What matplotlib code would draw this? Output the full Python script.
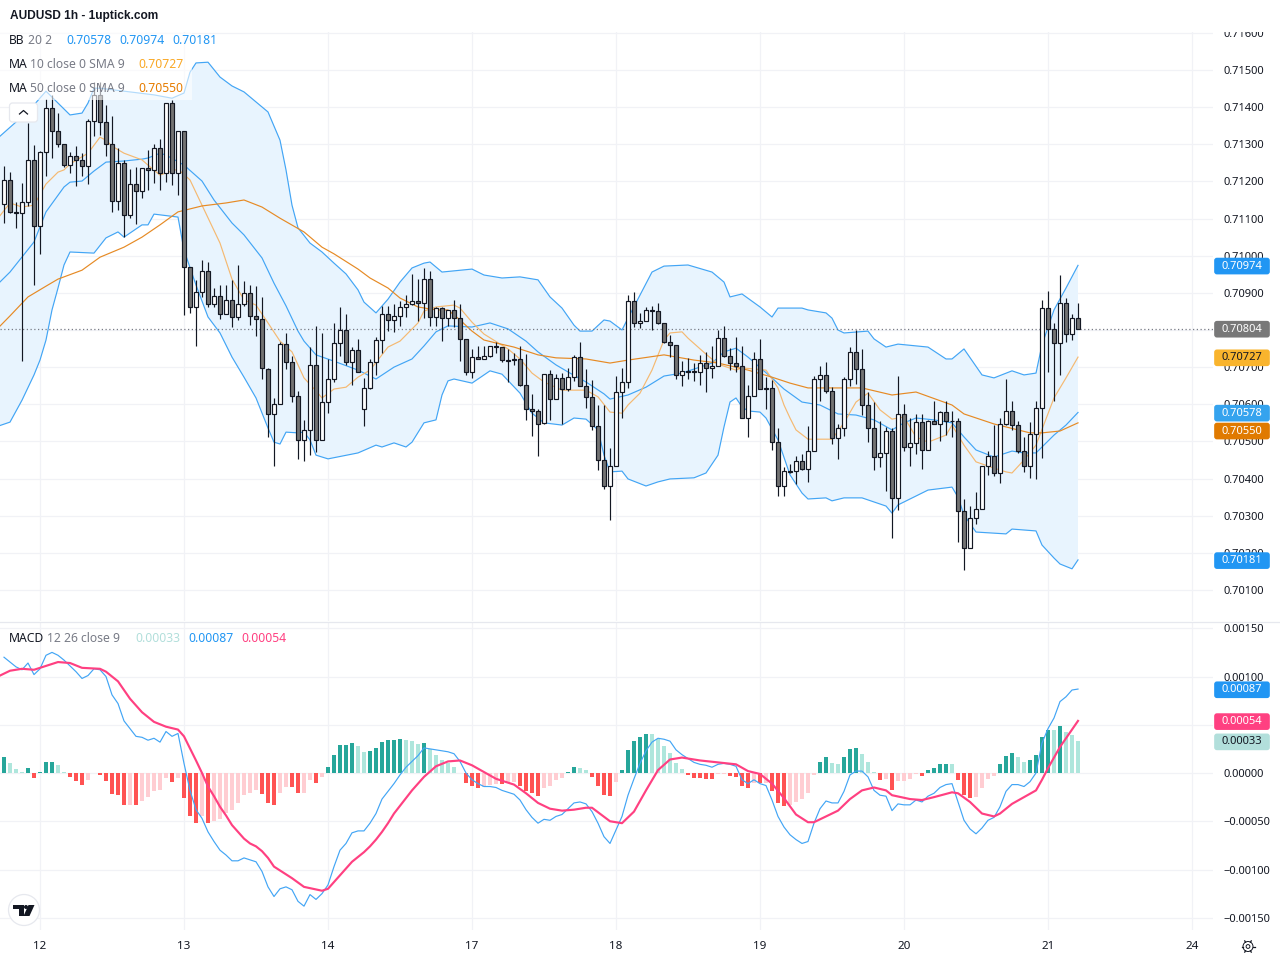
import numpy as np
import matplotlib
matplotlib.use("Agg")
import matplotlib.pyplot as plt
from matplotlib.patches import FancyBboxPatch, Rectangle, Circle, Polygon

# ---------- candles (price x 1e5) ----------
opens = [71138,71204,71117,71114,71145,71259,71079,71278,71397,71335,
71300,71243,71268,71257,71241,71362,71434,71359,71300,71146,
71249,71109,71192,71173,71235,71230,71289,71224,71410,71224,
71335,70969,70861,70901,70958,70869,70891,70842,70880,70834,
70869,70899,70837,70829,70696,70573,70600,70761,70715,70621,
70503,70530,70705,70505,70605,70667,70764,70799,70715,70745,
70586,70643,70713,70772,70842,70828,70839,70863,70871,70877,
70874,70936,70834,70858,70831,70853,70831,70777,70686,70726,
70723,70729,70756,70753,70719,70721,70721,70651,70586,70583,
70549,70681,70614,70670,70641,70673,70727,70649,70619,70541,
70450,70380,70433,70633,70660,70878,70818,70824,70853,70851,
70818,70767,70759,70678,70689,70689,70686,70711,70697,70703,
70778,70729,70711,70703,70563,70622,70721,70643,70643,70498,
70380,70421,70421,70446,70427,70473,70669,70680,70637,70508,
70535,70669,70742,70696,70599,70535,70459,70470,70527,70349,
70573,70484,70497,70551,70478,70556,70546,70578,70556,70554,
70314,70214,70295,70319,70433,70462,70416,70546,70583,70543,
70473,70433,70519,70589,70858,70804,70764,70874,70788,70831]
highs = [71241,71225,71145,71195,71358,71297,71283,71421,71433,71385,
71302,71280,71296,71276,71367,71469,71469,71406,71376,71289,
71258,71233,71238,71235,71285,71300,71313,71412,71419,71335,
71335,70969,70935,70988,70984,70912,70921,70921,70935,70974,
70932,70921,70918,70888,70699,70616,70768,70793,70730,70635,
70557,70753,70812,70793,70721,70820,70861,70844,70753,70775,
70670,70721,70780,70864,70864,70869,70877,70893,70950,70936,
70966,70958,70861,70861,70855,70880,70871,70777,70750,70757,
70757,70756,70768,70753,70750,70739,70758,70735,70629,70586,
70681,70693,70681,70684,70697,70733,70767,70695,70666,70598,
70598,70482,70675,70697,70895,70902,70845,70861,70865,70872,
70818,70786,70759,70717,70724,70711,70733,70740,70757,70800,
70811,70751,70781,70757,70651,70740,70776,70673,70666,70536,
70432,70439,70460,70465,70541,70675,70702,70713,70647,70546,
70674,70753,70800,70750,70632,70605,70554,70539,70535,70675,
70602,70564,70573,70573,70559,70608,70582,70610,70581,70564,
70345,70326,70363,70434,70474,70543,70562,70667,70610,70554,
70512,70551,70608,70882,70906,70820,70947,70887,70844,70874]
lows = [71089,71114,71074,70717,71134,70922,71005,71215,71262,71294,
71240,71224,71189,71215,71194,71322,71325,71268,71119,71123,
71051,71101,71085,71155,71177,71197,71177,71199,71190,71163,
70840,70845,70758,70888,70863,70861,70830,70842,70809,70827,
70865,70813,70785,70668,70512,70434,70600,70694,70606,70453,
70448,70464,70472,70503,70577,70661,70730,70705,70652,70688,
70542,70642,70679,70737,70798,70795,70812,70836,70867,70823,
70831,70812,70812,70771,70812,70807,70716,70680,70670,70721,
70721,70728,70737,70713,70660,70705,70649,70559,70514,70461,
70546,70558,70614,70546,70635,70664,70649,70589,70530,70423,
70371,70289,70433,70562,70643,70808,70805,70823,70799,70815,
70764,70727,70669,70650,70668,70662,70652,70634,70672,70702,
70727,70691,70688,70563,70511,70621,70641,70588,70477,70352,
70352,70414,70385,70424,70390,70473,70608,70631,70493,70452,
70514,70649,70654,70570,70499,70423,70430,70367,70240,70315,
70475,70433,70466,70425,70478,70546,70501,70517,70512,70230,
70154,70214,70277,70319,70409,70406,70389,70545,70530,70469,
70417,70401,70399,70456,70687,70608,70679,70769,70773,70804]
closes = [71204,71117,71114,71145,71259,71079,71278,71397,71335,71300,
71243,71268,71257,71241,71362,71434,71359,71300,71146,71249,
71109,71192,71173,71235,71230,71289,71224,71410,71224,71335,
70969,70861,70901,70958,70869,70891,70842,70880,70834,70869,
70899,70837,70829,70697,70573,70600,70761,70715,70621,70503,
70530,70705,70505,70605,70667,70764,70799,70715,70745,70688,
70643,70713,70772,70842,70828,70839,70863,70871,70877,70874,
70936,70834,70858,70831,70853,70831,70777,70686,70726,70723,
70729,70756,70753,70718,70717,70718,70651,70586,70583,70548,
70681,70614,70670,70641,70673,70727,70649,70619,70541,70450,
70380,70433,70633,70660,70878,70818,70824,70853,70851,70818,
70767,70759,70678,70689,70686,70686,70711,70697,70703,70778,
70729,70711,70703,70563,70622,70721,70641,70641,70498,70380,
70420,70419,70446,70427,70473,70669,70680,70637,70508,70535,
70669,70742,70696,70599,70535,70459,70470,70527,70349,70573,
70484,70497,70551,70478,70556,70546,70578,70556,70554,70314,
70214,70295,70319,70433,70462,70416,70546,70583,70543,70473,
70433,70519,70589,70858,70804,70764,70874,70788,70831,70804]

bb_up_bar = [-1,2,5,7,9,11,13,14,15,16,20,25,28,30,31,32,34,36,38,40,44,46,47,48,49,51,53,55,57,59,60,62,64,66,68,70,71,73,78,80,83,86,89,91,93,95,96,98,100,101,103,104,106,108,110,114,118,120,121,123,126,128,129,133,134,137,138,139,140,144,145,147,149,154,157,158,160,163,165,168,170,172,173,175,177,179]
bb_up_val = [71317,71360,71406,71443,71411,71379,71384,71411,71451,71451,71443,71433,71424,71438,71494,71519,71521,71481,71457,71441,71387,71311,71231,71136,71075,71034,71010,70980,70951,70908,70875,70846,70883,70929,70967,70980,70983,70956,70964,70948,70940,70943,70935,70889,70859,70813,70797,70797,70827,70824,70800,70832,70894,70956,70972,70975,70956,70929,70889,70897,70862,70835,70859,70859,70854,70846,70832,70800,70792,70797,70776,70754,70762,70754,70722,70722,70749,70679,70671,70690,70679,70684,70760,70854,70913,70974]
bb_lo_bar = [-1,1,3,5,6,7,8,9,10,11,15,17,19,20,23,24,25,29,30,32,34,36,38,40,42,44,45,46,47,49,50,51,52,54,59,62,63,65,67,68,70,72,73,74,75,78,81,83,86,88,90,93,95,97,99,100,101,103,104,107,109,111,115,117,119,120,121,122,123,124,126,127,129,131,133,134,137,138,140,143,147,148,149,154,158,159,160,162,167,168,172,173,175,176,178,179]
bb_lo_val = [70541,70552,70611,70679,70719,70773,70854,70913,70975,71010,71007,71048,71064,71050,71083,71083,71112,71104,71015,70921,70835,70792,70727,70673,70617,70536,70498,70493,70525,70523,70525,70504,70463,70453,70469,70490,70485,70496,70485,70498,70550,70558,70625,70663,70668,70657,70690,70681,70630,70576,70550,70544,70563,70560,70531,70463,70418,70420,70399,70380,70391,70399,70402,70415,70463,70539,70606,70617,70593,70582,70579,70563,70504,70410,70361,70345,70348,70340,70348,70348,70326,70307,70329,70369,70377,70350,70302,70256,70251,70264,70259,70221,70186,70170,70157,70181]
bb_mid_bar = [-1,1,5,7,10,11,13,15,17,20,23,24,26,27,30,33,35,38,40,43,45,47,49,50,52,55,59,62,65,68,70,72,74,78,81,84,87,89,92,94,97,100,101,104,107,110,113,118,120,122,124,128,130,133,136,139,142,145,148,150,152,155,158,160,162,165,168,170,172,175,177,179]
bb_mid_val = [70924,70956,71037,71118,71185,71198,71201,71228,71252,71255,71260,71263,71276,71271,71244,71201,71150,71088,71056,70994,70926,70865,70797,70770,70733,70716,70692,70668,70700,70722,70757,70795,70811,70808,70819,70803,70770,70741,70706,70687,70660,70628,70614,70625,70646,70676,70684,70711,70741,70751,70727,70671,70641,70606,70598,70574,70571,70558,70531,70550,70563,70558,70550,70512,70477,70458,70474,70469,70469,70517,70544,70578]

# ---------- moving averages ----------
ma10_bar = [-1,1,3,5,7,9,10,11,14,16,17,18,20,23,24,26,27,29,31,33,36,38,40,42,44,46,48,50,52,53,55,57,59,61,64,66,69,70,72,75,76,78,80,84,86,88,90,93,97,99,101,103,104,106,108,110,111,113,114,117,119,122,123,127,129,130,131,132,134,138,140,142,144,146,148,150,152,154,157,158,160,162,165,167,168,170,172,175,177,179]
ma10_val = [71101,71142,71131,71136,71193,71225,71231,71247,71276,71319,71311,71295,71276,71258,71244,71217,71223,71233,71204,71136,71034,70937,70881,70867,70819,70770,70741,70671,70636,70617,70641,70646,70673,70692,70754,70770,70819,70851,70862,70867,70859,70821,70789,70749,70722,70684,70660,70638,70638,70620,70579,70576,70598,70630,70692,70773,70792,70795,70778,70735,70708,70692,70698,70692,70644,70598,70563,70531,70506,70506,70550,70606,70630,70585,70560,70566,70512,70498,70517,70544,70490,70445,70428,70418,70415,70450,70490,70617,70671,70727]
ma50_bar = [-1,1,4,7,9,13,16,20,23,26,29,31,33,37,40,43,46,50,53,55,59,61,64,66,69,72,74,76,78,80,82,85,89,92,97,101,104,110,115,119,124,128,131,134,143,148,152,158,160,165,171,173,176,179]
ma50_val = [70805,70838,70889,70918,70937,70961,70996,71023,71050,71083,71118,71126,71134,71142,71150,71131,71101,71064,71023,71005,70964,70940,70913,70886,70862,70854,70854,70827,70797,70773,70765,70754,70733,70725,70722,70711,70719,70733,70719,70711,70692,70673,70657,70644,70644,70625,70633,70598,70574,70547,70523,70523,70528,70550]

# ---------- MACD (x 1e5) ----------
macd_line = [120,115,110,107,114,102,108,122,125,122,117,111,105,98,101,108,107,100,81,72,
54,46,38,37,34,36,32,43,38,41,10,-18,-38,-47,-61,-71,-80,-85,-91,-91,
-88,-90,-92,-102,-118,-128,-120,-118,-121,-133,-138,-126,-131,-125,-116,-97,-80,-73,-62,-60,
-60,-52,-42,-27,-19,-11,-2,6,12,18,26,25,24,23,22,20,12,0,-7,-11,
-14,-14,-15,-18,-20,-22,-28,-38,-46,-52,-48,-49,-45,-43,-37,-31,-30,-32,-40,-52,
-66,-73,-59,-45,-23,-6,10,23,32,36,35,33,24,19,15,11,9,8,6,9,
10,9,7,-7,-11,-7,-11,-13,-28,-45,-56,-64,-69,-73,-71,-52,-37,-29,-31,-31,
-19,-2,2,2,-4,-18,-23,-24,-39,-32,-33,-33,-28,-30,-24,-21,-15,-12,-11,-30,
-49,-58,-63,-57,-49,-46,-35,-19,-12,-12,-14,-9,0,31,46,57,74,79,86,87]
signal_bar = [-1,1,3,5,7,9,11,13,16,17,19,21,23,25,27,29,30,32,33,34,35,36,37,38,39,40,41,42,43,44,45,48,50,53,54,55,56,57,58,59,60,61,62,63,64,65,66,67,68,70,72,74,76,78,80,82,85,87,89,91,93,95,97,98,101,103,105,107,109,111,113,116,119,122,124,126,128,130,132,134,135,137,139,141,143,145,147,148,151,153,155,158,159,161,163,165,166,168,170,172,173,174,175,176,177,178,179]
signal_val = [100,106,108,107,111,115,114,109,108,105,95,77,63,53,48,45,38,13,0,-14,-24,-35,-44,-54,-61,-68,-73,-76,-81,-88,-97,-109,-118,-122,-120,-113,-106,-99,-92,-87,-82,-76,-69,-61,-52,-42,-34,-26,-18,-4,7,12,13,8,1,-6,-12,-21,-31,-37,-39,-38,-36,-36,-50,-52,-40,-18,3,14,16,13,11,9,2,-1,-11,-26,-43,-51,-51,-45,-39,-27,-18,-15,-18,-23,-27,-28,-25,-20,-21,-30,-42,-45,-42,-32,-25,-18,-7,5,16,27,36,45,54]
hist_val = [17,10,4,1,5,-5,1,11,11,8,1,-4,-8,-12,-7,0.4,-2,-8,-22,-23,
-33,-33,-33,-29,-25,-19,-18,-5,-9,-5,-26,-45,-52,-45,-52,-50,-48,-41,-38,-31,
-23,-21,-18,-22,-31,-33,-21,-14,-14,-21,-21,-7,-10,-4,6,19,29,29,31,28,
22,23,26,32,34,34,35,34,33,30,31,25,19,13,10,6,0.3,-10,-13,-16,
-14,-12,-11,-11,-9,-9,-13,-19,-21,-24,-16,-13,-7,-5,1,6,5,3,-4,-13,
-23,-24,-9,3,24,33,37,40,40,35,28,21,10,4,-2,-5,-5,-6,-6,-1,
-1,-3,-4,-13,-16,-10,-10,-10,-19,-31,-34,-33,-30,-27,-21,-2,11,17,10,9,
17,25,26,20,11,1,-7,-6,-18,-8,-8,-6,-1,-3,3,5,9,9,9,-7,
-23,-26,-25,-16,-6,-3,9,18,21,17,11,13,19,37,45,45,49,42,39,33]
hist_shade = ("DLLLDDDDDL" "LDDDLDDDDD" "DLDLLLLLDL" "DDDLDLLLLL" "LLLDDDLLDD" "LLDLDDDDDL"
              "LDDDDDDLLL" "DLLLLLLDDD" "LLLDLLDDDD" "LLLLDDLLDD" "DDLDDDDDLL" "LLLLDDDDDL"
              "LDDDDLDLDD" "DLLLLLDDLL" "DDDLLLDLDL" "LLLDDDDDLD" "DDLLLLDDDL" "LDDDDLDLLL")

# ---------- axes labels ----------
day_ticks = [6,30,54,78,102,126,150,174,198]
day_labels = ["12","13","14","17","18","19","20","21","24"]
price_ticks = [0.701,0.702,0.703,0.704,0.705,0.706,0.707,0.708,0.709,0.710,0.711,0.712,0.713,0.714,0.715,0.716]
macd_ticks = [-0.0015,-0.001,-0.0005,0,0.0005,0.001,0.0015]
last_close = 0.70804
bb_vals = ["0.70578","0.70974","0.70181"]
ma10_last, ma50_last = "0.70727","0.70550"
macd_vals = ["0.00033","0.00087","0.00054"]

W, H = 1280, 960
PANE_R = 1213
GRID = "#f1f2f6"; TXT = "#131722"; GREY = "#787b86"; LINE = "#e6e8ee"
BLUE = "#42a5f5"; PINK = "#ff4081"
MA10C = "#f5b971"; MA50C = "#e68a24"
plt.rcParams["font.family"] = ["Noto Sans", "DejaVu Sans"]
plt.rcParams["lines.solid_joinstyle"] = "round"

fig = plt.figure(figsize=(W/100, H/100), dpi=100, facecolor="white")
def make_axes(top, bottom):
    return fig.add_axes([0, 1-bottom/H, PANE_R/W, (bottom-top)/H])
ax = make_axes(32, 621)
am = make_axes(622, 930)
barsx = np.arange(len(closes))
xlim = (-4/6, (PANE_R-4)/6)

for a in (ax, am):
    a.set_xlim(*xlim)
    a.set_xticks(day_ticks)
    a.grid(True, color=GRID, lw=0.9)
    a.set_axisbelow(True)
    a.yaxis.tick_right()
    a.tick_params(axis="both", length=0, labelsize=8, labelcolor=TXT)
    a.tick_params(axis="y", pad=7.5)
    for s in a.spines.values():
        s.set_visible(False)
ax.set_ylim(0.700165, 0.716023)
am.set_ylim(-0.001627, 0.001565)
ax.set_yticks(price_ticks)
ax.set_yticklabels([f"{v:.5f}" for v in price_ticks])
ax.tick_params(axis="x", labelbottom=False)
am.set_yticks(macd_ticks)
am.set_yticklabels([f"{v:.5f}".replace("-", "\u2212") for v in macd_ticks])
am.set_xticklabels(day_labels)
am.tick_params(axis="x", pad=7.7, labelsize=8.4)

# bands and moving averages
P = lambda seq: np.asarray(seq, float)/1e5
ax.fill(np.r_[bb_up_bar, bb_lo_bar[::-1]], np.r_[P(bb_up_val), P(bb_lo_val)[::-1]],
        color="#e8f4fe", lw=0, zorder=1)
ax.plot(bb_mid_bar, P(bb_mid_val), color=BLUE, lw=0.85, zorder=2)
ax.plot(bb_up_bar, P(bb_up_val), color=BLUE, lw=0.85, zorder=2)
ax.plot(bb_lo_bar, P(bb_lo_val), color=BLUE, lw=0.85, zorder=2)
ax.plot(ma10_bar, P(ma10_val), color=MA10C, lw=0.85, zorder=2)
ax.plot(ma50_bar, P(ma50_val), color=MA50C, lw=0.85, zorder=2)
ax.axhline(last_close, color=GREY, lw=0.9, ls=(0, (1, 2)), zorder=2)

# candles
o, h, l, c = P(opens), P(highs), P(lows), P(closes)
ax.vlines(barsx, l, h, color="#131722", lw=0.85, zorder=3)
ax.bar(barsx, np.abs(c-o), bottom=np.minimum(o, c), width=0.6,
       color=["white" if cc >= oo else "#737373" for oo, cc in zip(o, c)],
       edgecolor="#131722", linewidth=0.85, zorder=4)

# MACD pane
hv = P(hist_val)
hcol = []
for v, s in zip(hv, hist_shade):
    if v >= 0:
        hcol.append("#26a69a" if s == "D" else "#aee6dc")
    else:
        hcol.append("#ff5252" if s == "D" else "#ffcdd2")
am.bar(barsx, hv, width=0.78, color=hcol, lw=0, zorder=2)
am.plot(barsx, P(macd_line), color=BLUE, lw=0.85, zorder=3)
am.plot(signal_bar, P(signal_val), color=PINK, lw=1.55, zorder=4)

# overlay in pixel coordinates for the chrome
ov = fig.add_axes([0, 0, 1, 1], zorder=10)
ov.set_xlim(0, W); ov.set_ylim(H, 0); ov.axis("off"); ov.patch.set_alpha(0)
ov.add_patch(Rectangle((0, 0), W, 32, fc="white", ec="none"))
ov.add_patch(Rectangle((0, 33), 192, 67, fc="white", ec="none", alpha=0.6))
ov.plot([0, W], [621.5, 621.5], color=LINE, lw=0.9)

def put(x, y, s, color=TXT, size=8.75, **kw):
    ov.text(x, y, s, color=color, fontsize=size, va="center", ha="left", **kw)

ov.text(10, 16, "AUDUSD 1h - 1uptick.com", fontsize=8.6, fontweight="bold",
        family=["Liberation Sans"], color=TXT, va="center")
put(9, 41, "BB"); put(28, 41, "20 2", GREY)
for x, s in zip((66.5, 119.5, 172), bb_vals):
    put(x, 41, s, "#2196f3")
put(9, 65, "MA"); put(30, 65, "10 close 0 SMA 9", GREY); put(138.5, 65, ma10_last, "#f9a825")
put(9, 89, "MA"); put(30, 89, "50 close 0 SMA 9", GREY); put(138.5, 89, ma50_last, "#e67c00")
put(9, 639, "MACD"); put(47, 639, "12 26 close 9", GREY)
for x, s, col in zip((135.5, 188.5, 241.5), macd_vals, ("#b2dfdb", "#2196f3", "#ff4081")):
    put(x, 639, s, col)

# price tags
def tag(axes, value, text, fc, tc="white", shift=0):
    y = H - axes.transData.transform((0, value))[1] + shift + 0.7
    ov.add_patch(FancyBboxPatch((1215, y-7.5), 54, 15, boxstyle="round,pad=0,rounding_size=2",
                                fc=fc, ec=fc, lw=1.2, mutation_aspect=1))
    ov.text(1242, y, text, color=tc, fontsize=8, ha="center", va="center")
tag(ax, float(bb_vals[1]), bb_vals[1], "#2196f3")
tag(ax, last_close, f"{last_close:.5f}", "#787878")
tag(ax, float(ma10_last), ma10_last, "#f9b42d", TXT)
tag(ax, float(bb_vals[0]), bb_vals[0], "#35a3ee")
tag(ax, float(ma50_last), ma50_last, "#e07a00", shift=7.5)
tag(ax, float(bb_vals[2]), bb_vals[2], "#2196f3")
tag(am, float(macd_vals[1]), macd_vals[1], "#2196f3")
tag(am, float(macd_vals[2]), macd_vals[2], "#ff4081")
tag(am, float(macd_vals[0]), macd_vals[0], "#b2dfdb", TXT)

# collapse button
ov.add_patch(FancyBboxPatch((9.5, 103), 28, 19, boxstyle="round,pad=0,rounding_size=3",
                            fc="white", ec=LINE, lw=0.9))
ov.plot([19.5, 23.5, 27.5], [114, 110.5, 114], color=TXT, lw=0.9)

# logo
ov.add_patch(Circle((24, 910), 15.5, fc="white", ec=LINE, lw=0.9))
ov.add_patch(Polygon([(12.5, 905), (23.5, 905), (23.5, 916), (18.5, 916), (18.5, 909), (12.5, 909)], fc=TXT, ec="none"))
ov.add_patch(Circle((26, 907), 2, fc=TXT, ec="none"))
ov.add_patch(Polygon([(28.5, 905), (34.5, 905), (29.5, 916), (23.5, 916)], fc=TXT, ec="none"))

# settings gear
gx, gy = 1248, 946.5
ov.add_patch(Circle((gx, gy), 5, fc="white", ec=TXT, lw=0.7))
ov.add_patch(Circle((gx, gy), 1.9, fc="white", ec=TXT, lw=0.7))
for ang in np.deg2rad(np.arange(0, 360, 60)):
    ov.plot([gx+5*np.cos(ang), gx+6.5*np.cos(ang)], [gy+5*np.sin(ang), gy+6.5*np.sin(ang)], color=TXT, lw=0.9)

fig.savefig("out.png", dpi=100)
